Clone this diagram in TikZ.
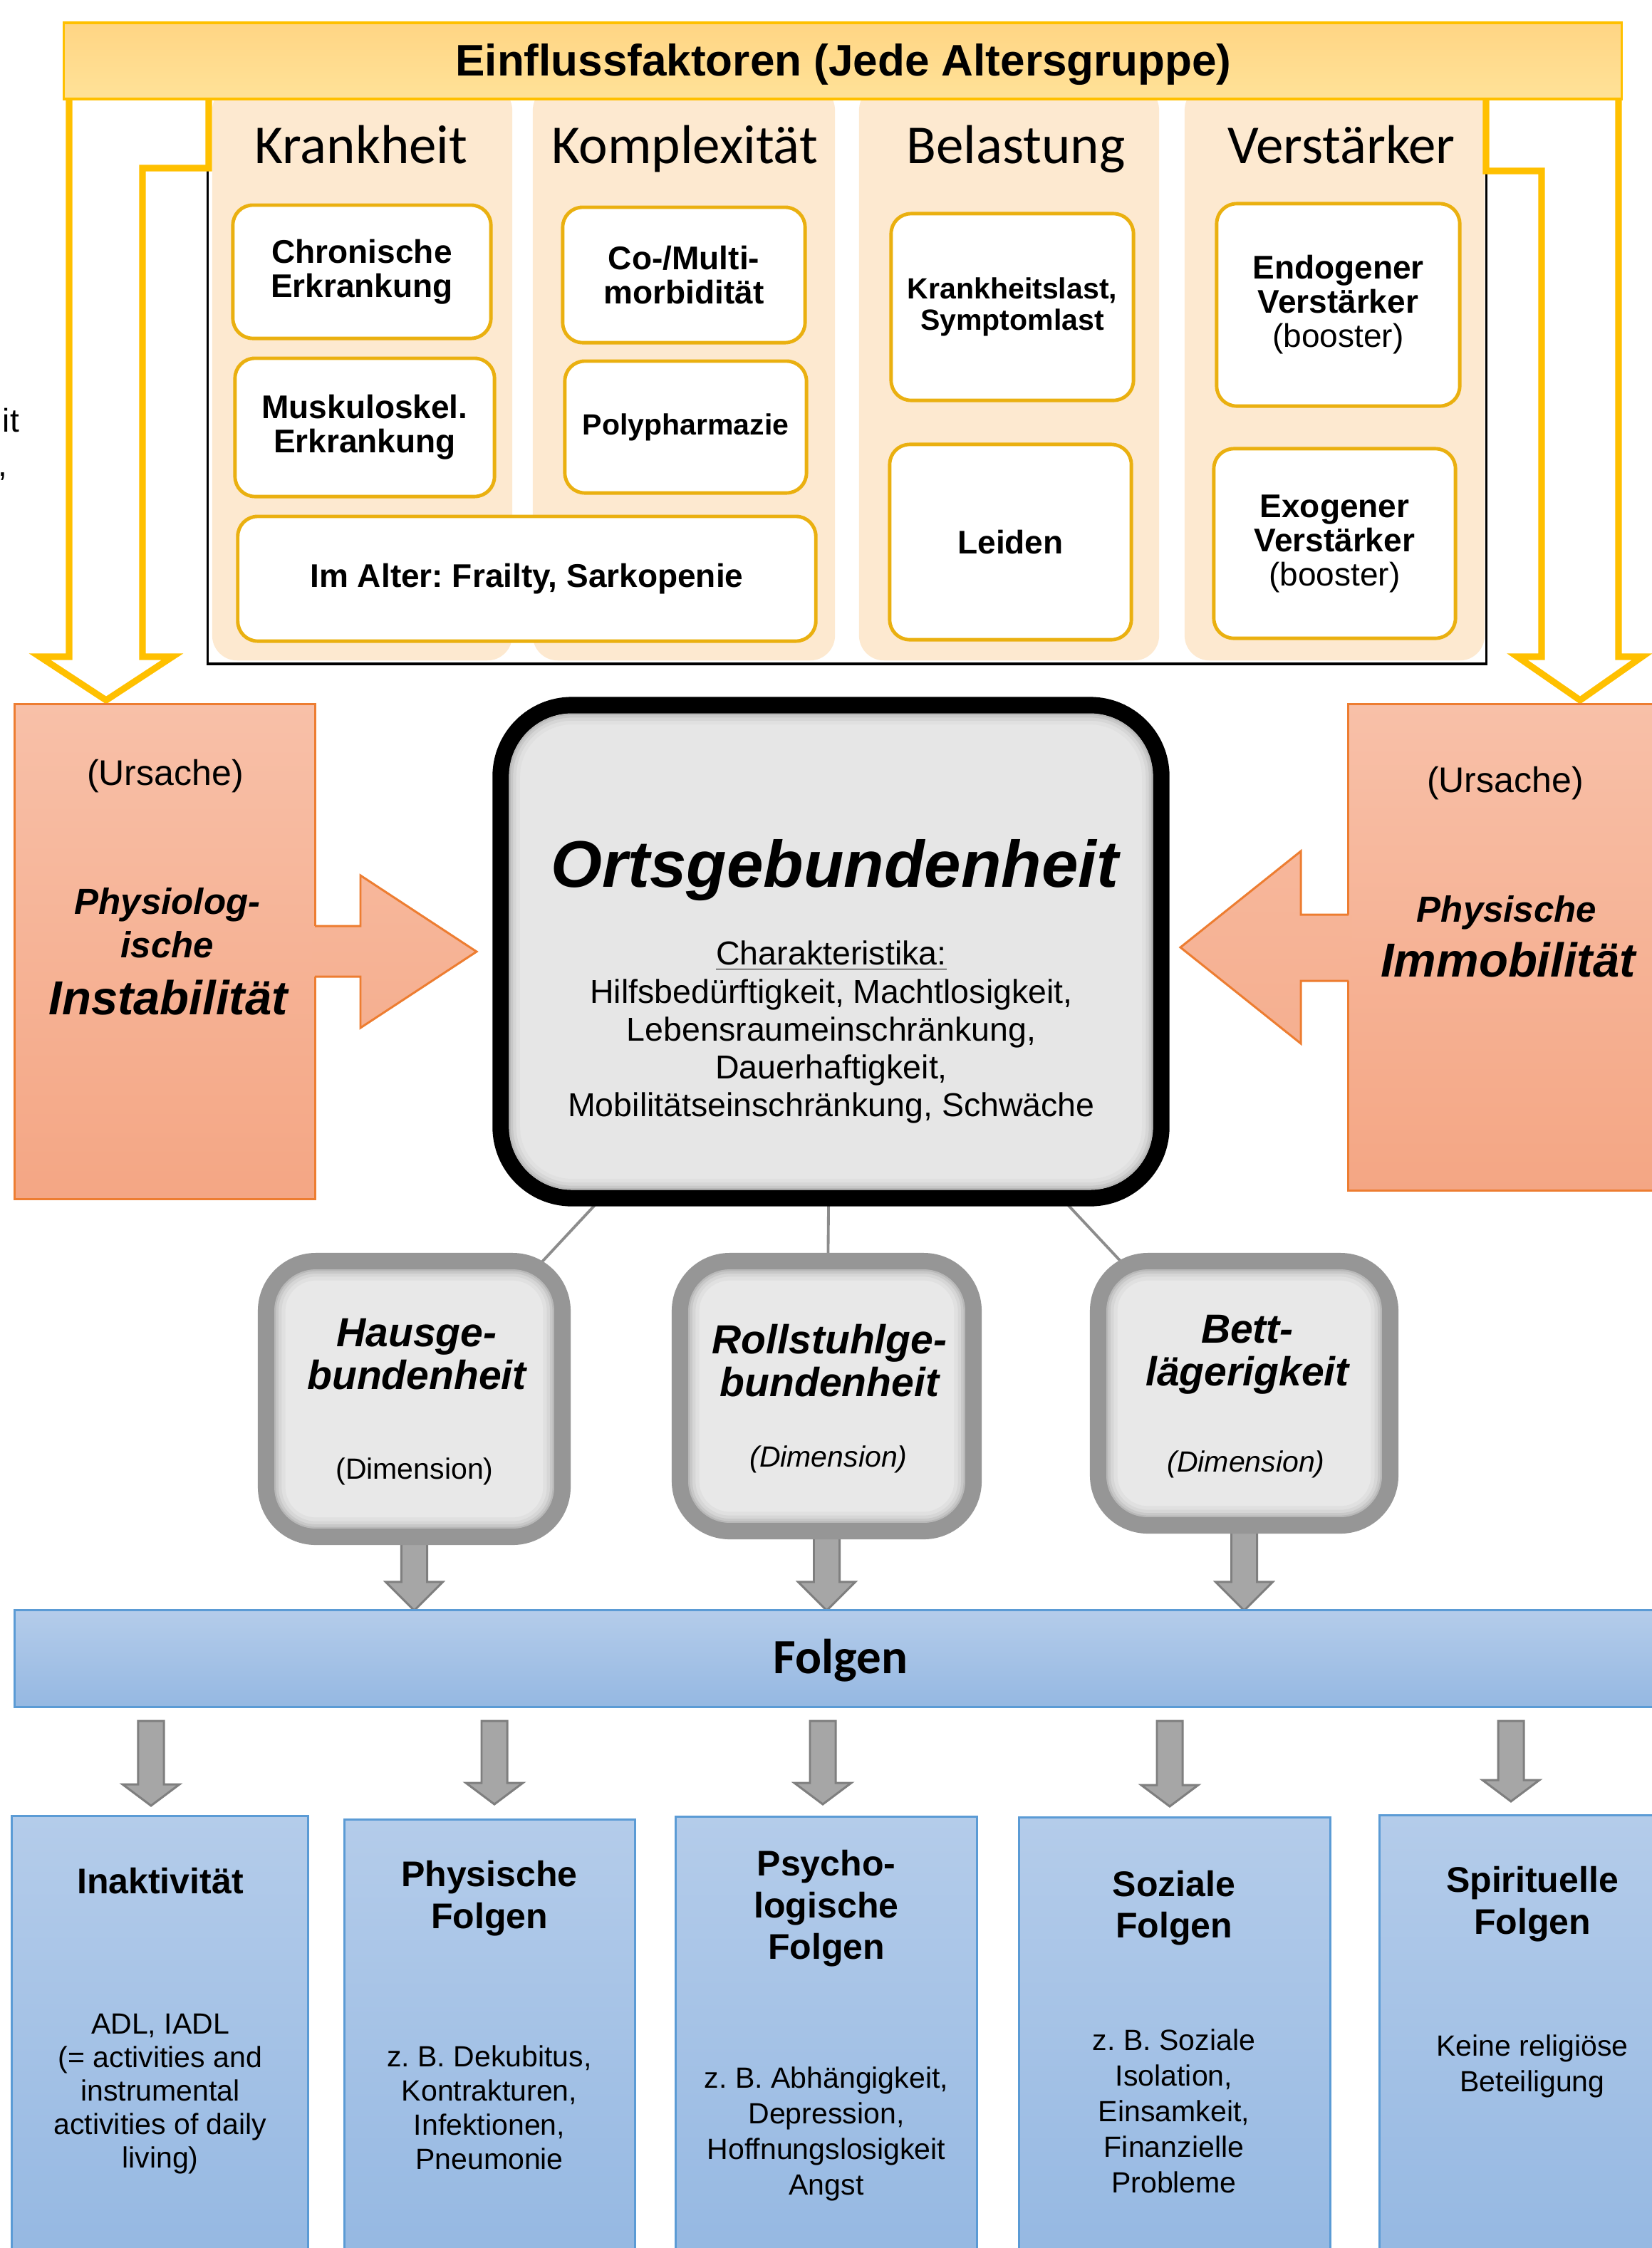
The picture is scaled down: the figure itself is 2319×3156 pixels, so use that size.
\documentclass[tikz,border=0pt]{standalone}
\usepackage{fontspec}
\setmainfont{Liberation Sans}
\newfontfamily\calib{Carlito}
\usetikzlibrary{calc}
\frenchspacing
\pgfdeclarelayer{back}
\pgfdeclarelayer{links}
\pgfsetlayers{back,links,main}
\newdimen\pu \pu=0.28453pt
\newcommand\fs[2]{\fontsize{#1}{#2}\selectfont}
\newcommand\blockarrow[3]{%
  \draw[garrow] let \p1=(#1), \p2=(#2) in
   (\x1-18*\pu,\y1) -- (\x1-18*\pu,\y2+#3*\pu) -- (\x1-40*\pu,\y2+#3*\pu) -- (\x1,\y2)
   -- (\x1+40*\pu,\y2+#3*\pu) -- (\x1+18*\pu,\y2+#3*\pu) -- (\x1+18*\pu,\y1) -- cycle;}
\definecolor{gold}{RGB}{255,192,0}
\definecolor{boxgold}{RGB}{234,176,16}
\definecolor{hdrtop}{RGB}{255,213,132}
\definecolor{hdrbot}{RGB}{255,226,152}
\definecolor{peach}{RGB}{253,233,208}
\definecolor{pinktop}{RGB}{248,192,168}
\definecolor{pinkbot}{RGB}{244,166,132}
\definecolor{pa1}{RGB}{247,183,155}
\definecolor{pa2}{RGB}{245,175,144}
\definecolor{orangeb}{RGB}{237,125,49}
\definecolor{boxgray}{RGB}{230,230,230}
\definecolor{dimfill}{RGB}{232,232,232}
\definecolor{dimgray}{RGB}{150,150,150}
\definecolor{sh1}{RGB}{224,224,224}
\definecolor{sh2}{RGB}{214,214,214}
\definecolor{sh3}{RGB}{200,200,200}
\definecolor{sh4}{RGB}{184,184,184}
\definecolor{conngray}{RGB}{140,140,140}
\definecolor{arrfill}{RGB}{166,166,166}
\definecolor{arrline}{RGB}{127,127,127}
\definecolor{bluetop}{RGB}{180,204,234}
\definecolor{bluebot}{RGB}{149,184,226}
\definecolor{blueline}{RGB}{91,155,213}
\tikzset{
  goldline/.style={draw=gold, line width=2.6pt},
  col/.style={fill=peach, rounded corners=0.35cm},
  hdr/.style={draw=gold, line width=0.9pt, top color=hdrtop, bottom color=hdrbot},
  ctitle/.style={font=\calib\fs{21.9}{26}},
  tbox/.style={draw=boxgold, line width=1.4pt, fill=white, rounded corners=0.28cm, align=center, font=\bfseries\fs{13.09}{13.66}},
  tboxs/.style={tbox, font=\bfseries\fs{11.67}{12.52}},
  pinkbox/.style={draw=orangeb, line width=0.85pt, top color=pinktop, bottom color=pinkbot},
  ptxt/.style={font=\fs{14.23}{17}},
  pbig/.style={font=\bfseries\itshape\fs{19.06}{22}},
  pmid/.style={font=\bfseries\itshape\fs{14.51}{17.36}, align=center},
  shadowbox/.style 2 args={path picture={
    \draw[rounded corners=#1, line width=15.5pt, sh1] (path picture bounding box.south west) rectangle (path picture bounding box.north east);
    \draw[rounded corners=#1, line width=12.5pt, sh2] (path picture bounding box.south west) rectangle (path picture bounding box.north east);
    \draw[rounded corners=#1, line width=10pt, sh3] (path picture bounding box.south west) rectangle (path picture bounding box.north east);
    \draw[rounded corners=#1, line width=8pt, sh4] (path picture bounding box.south west) rectangle (path picture bounding box.north east);
    \draw[rounded corners=#1, line width=6.5pt, #2] (path picture bounding box.south west) rectangle (path picture bounding box.north east);
  }},
  ortsbox/.style={fill=boxgray, draw=black, line width=6.5pt, rounded corners=1cm, shadowbox={1cm}{black}},
  dimbox/.style={fill=dimfill, draw=dimgray, line width=6.5pt, rounded corners=0.7cm, shadowbox={0.7cm}{dimgray}},
  otitle/.style={font=\bfseries\itshape\fs{26.3}{30}},
  obody/.style={font=\fs{13.23}{15.08}, align=center},
  dtitle/.style={font=\bfseries\itshape\fs{16.22}{17.07}, align=center},
  dsub/.style={font=\fs{11.67}{14}},
  dsubi/.style={font=\itshape\fs{11.67}{14}},
  garrow/.style={fill=arrfill, draw=arrline, line width=0.85pt, line join=miter},
  conn/.style={draw=conngray, line width=1.1pt},
  bluebar/.style={draw=blueline, line width=0.85pt, top color=bluetop, bottom color=bluebot},
  ftitle/.style={font=\calib\bfseries\fs{19.6}{23}},
  btitle/.style={font=\bfseries\fs{14.23}{16.64}, align=center},
  bbody/.style={font=\fs{11.67}{14.2}, align=center},
}
\begin{document}
\begin{tikzpicture}[x=0.01cm, y=-0.01cm, every node/.style={inner sep=0pt, outer sep=0pt}]
\begin{pgfonlayer}{back}
\fill[white] (0,0) rectangle (2319,3156);
\end{pgfonlayer}
\useasboundingbox (0,0) rectangle (2319,3156);
\clip (0,0) rectangle (2319,3156);

% columns
\node[col, minimum width=4.21cm, minimum height=8.07cm] (col1) at (508.5,523.5) {};
\node[col, minimum width=4.24cm, minimum height=8.07cm] (col2) at (960,523.5) {};
\node[col, minimum width=4.21cm, minimum height=8.07cm] (col3) at (1416.5,523.5) {};
\node[col, minimum width=4.21cm, minimum height=8.07cm] (col4) at (1873.5,523.5) {};
% frame
\node[draw=black, line width=1.1pt, minimum width=17.94cm, minimum height=7.93cm] (frame) at (1189,535.5) {};

% hollow gold arrows
\draw[goldline] (97,135) -- (97,922) -- (56,922) -- (149,983) -- (242,922) -- (200,922) -- (200,236) -- (293,236) -- (293,135);
\draw[goldline] (2272,135) -- (2272,922) -- (2305,922) -- (2218,983) -- (2130,922) -- (2164,922) -- (2164,240) -- (2086,240) -- (2086,135);

% header
\node[hdr, minimum width=21.86cm, minimum height=1.07cm] (hdr) at (1183,85.5) {};
\node[anchor=base, font=\bfseries\fs{17.64}{20}] (hdrtxt) at (1184,106) {Einflussfaktoren (Jede Altersgruppe)};

% column titles
\node[ctitle, anchor=base] (t1) at (507,229) {Krankheit};
\node[ctitle, anchor=base] (t2) at (961,229) {Komplexität};
\node[ctitle, anchor=base] (t3) at (1426,229) {Belastung};
\node[ctitle, anchor=base] (t4) at (1883,229) {Verstärker};

% factor boxes
\node[tbox, minimum width=3.62cm, minimum height=1.87cm] (chron) at (508,381.5) {Chronische\\Erkrankung};
\node[tbox, minimum width=3.64cm, minimum height=1.94cm] (musk) at (512,600) {Muskuloskel.\\Erkrankung};
\node[tbox, minimum width=3.40cm, minimum height=1.90cm] (comorb) at (960,386) {Co-/Multi-\\morbidität};
\node[tboxs, minimum width=3.39cm, minimum height=1.85cm] (poly) at (962.5,599.5) {Polypharmazie};
\node[tbox, minimum width=8.11cm, minimum height=1.75cm] (alter) at (739.5,812.5) {Im Alter: Frailty, Sarkopenie};
\node[tboxs, minimum width=3.40cm, minimum height=2.62cm] (klast) at (1421,431) {Krankheitslast,\\Symptomlast};
\node[tbox, minimum width=3.39cm, minimum height=2.74cm] (leiden) at (1418.5,761) {Leiden};
\node[tbox, minimum width=3.41cm, minimum height=2.84cm] (endo) at (1878.5,428) {Endogener\\Verstärker\\{\mdseries(booster)}};
\node[tbox, minimum width=3.39cm, minimum height=2.66cm] (exo) at (1873.5,763) {Exogener\\Verstärker\\{\mdseries(booster)}};

% cause boxes
\node[pinkbox, minimum width=4.21cm, minimum height=6.94cm] (pinkL) at (231.5,1336) {};
\node[pinkbox, minimum width=4.47cm, minimum height=6.82cm] (pinkR) at (2116.5,1330) {};
\shade[top color=pa1, bottom color=pa2] (438,1300) -- (506,1300) -- (506,1229) -- (669,1336) -- (506,1443) -- (506,1371) -- (438,1371) -- cycle;
\draw[orangeb, line width=0.85pt] (442,1300) -- (506,1300) -- (506,1229) -- (669,1336) -- (506,1443) -- (506,1371) -- (442,1371);
\shade[top color=pa1, bottom color=pa2] (1897,1284) -- (1826,1284) -- (1826,1195) -- (1657,1330) -- (1826,1465) -- (1826,1377) -- (1897,1377) -- cycle;
\draw[orangeb, line width=0.85pt] (1893,1284) -- (1826,1284) -- (1826,1195) -- (1657,1330) -- (1826,1465) -- (1826,1377) -- (1893,1377);
\node[ptxt, anchor=base] (urL) at (232,1102) {(Ursache)};
\node[pmid] (physL) at (235,1296) {Physiolog-\\ische};
\node[pbig, anchor=base] (instab) at (236,1424) {Instabilität};
\node[ptxt, anchor=base] (urR) at (2113,1112) {(Ursache)};
\node[pmid, anchor=base] (physR) at (2115,1294) {Physische};
\node[pbig, anchor=base] (immob) at (2117,1371) {Immobilität};

% central box
\node[ortsbox, minimum width=9.27cm, minimum height=6.92cm] (orts) at (1166.5,1336) {};
\node[otitle, anchor=base] (ortst) at (1172,1245) {Ortsgebundenheit};
\node[obody] (ortsb) at (1167,1449) {\underline{Charakteristika:}\\Hilfsbedürftigkeit, Machtlosigkeit,\\Lebensraumeinschränkung,\\Dauerhaftigkeit,\\Mobilitätseinschränkung, Schwäche};

% dimension boxes
\node[dimbox, minimum width=4.16cm, minimum height=3.87cm] (haus) at (581.5,1964) {};
\node[dimbox, minimum width=4.12cm, minimum height=3.79cm] (roll) at (1160.5,1960) {};
\node[dimbox, minimum width=4.10cm, minimum height=3.71cm] (bett) at (1746.5,1956) {};
\node[dtitle] (haust) at (585,1901.5) {Hausge-\\bundenheit};
\node[dsub, anchor=base] (hausd) at (582,2076) {(Dimension)};
\node[dtitle] (rollt) at (1164.5,1910) {Rollstuhlge-\\bundenheit};
\node[dsubi, anchor=base] (rolld) at (1163,2059) {(Dimension)};
\node[dtitle] (bettt) at (1751,1901.5) {Bett-\\lägerigkeit};
\node[dsubi, anchor=base] (bettd) at (1749,2066) {(Dimension)};

% Folgen bar
\node[bluebar, minimum width=23.19cm, minimum height=1.35cm] (folgen) at (1180.5,2328.5) {};
\node[ftitle, anchor=base] (folgent) at (1180,2349) {Folgen};

% consequence boxes
\node[bluebar, minimum width=4.15cm, minimum height=6.2cm] (inakt) at (224.5,2860) {};
\node[bluebar, minimum width=4.07cm, minimum height=6.15cm] (phys) at (687.5,2862.5) {};
\node[bluebar, minimum width=4.22cm, minimum height=6.19cm] (psych) at (1160,2860.5) {};
\node[bluebar, minimum width=4.36cm, minimum height=6.18cm] (soz) at (1649,2861) {};
\node[bluebar, minimum width=4.28cm, minimum height=6.21cm] (spir) at (2151,2859.5) {};

\node[btitle, anchor=base] (inaktt) at (225,2658) {Inaktivität};
\node[bbody, font=\fs{11.67}{13.4}] (inaktb) at (225,2939.5) {ADL, IADL\\(= activities and\\instrumental\\activities of daily\\living)};
\node[btitle] (physt) at (687,2665) {Physische\\Folgen};
\node[bbody, font=\fs{11.67}{13.66}] (physb) at (687,2959) {z. B. Dekubitus,\\Kontrakturen,\\Infektionen,\\Pneumonie};
\node[btitle] (psycht) at (1160,2679.5) {Psycho-\\logische\\Folgen};
\node[bbody] (psychb) at (1160,2996) {z. B. Abhängigkeit,\\Depression,\\Hoffnungslosigkeit\\Angst};
\node[btitle] (sozt) at (1648,2678.5) {Soziale\\Folgen};
\node[bbody] (sozb) at (1648,2964) {z. B. Soziale\\Isolation,\\Einsamkeit,\\Finanzielle\\Probleme};
\node[btitle] (spirt) at (2151,2673) {Spirituelle\\Folgen};
\node[bbody] (spirb) at (2151,2901) {Keine religiöse\\Beteiligung};

% cropped fragments at the left edge
\node[anchor=base east, font=\fs{13.09}{15}] (frag1) at (27,606) {it};
\node[anchor=base east, font=\fs{13.09}{15}] (frag2) at (10,668) {,};

% connectors and block arrows (behind)
\coordinate (a1s) at (212,2416);  \coordinate (a1e) at (212,2535);
\coordinate (a2s) at (694,2416);  \coordinate (a2e) at (694,2533);
\coordinate (a3s) at (1155,2416); \coordinate (a3e) at (1155,2533);
\coordinate (a4s) at (1642,2416); \coordinate (a4e) at (1642,2536);
\coordinate (a5s) at (2121,2416); \coordinate (a5e) at (2121,2529);
\begin{pgfonlayer}{links}
\draw[conn] (orts.center) -- (haus.center);
\draw[conn] (orts.center) -- (roll.center);
\draw[conn] (orts.center) -- (bett.center);
\blockarrow{haus.south}{haus.south |- folgen.north}{40}
\blockarrow{roll.south}{roll.south |- folgen.north}{40}
\blockarrow{bett.south}{bett.south |- folgen.north}{40}
\blockarrow{a1s}{a1e}{30}
\blockarrow{a2s}{a2e}{30}
\blockarrow{a3s}{a3e}{30}
\blockarrow{a4s}{a4e}{30}
\blockarrow{a5s}{a5e}{30}
\end{pgfonlayer}
\end{tikzpicture}
\end{document}
